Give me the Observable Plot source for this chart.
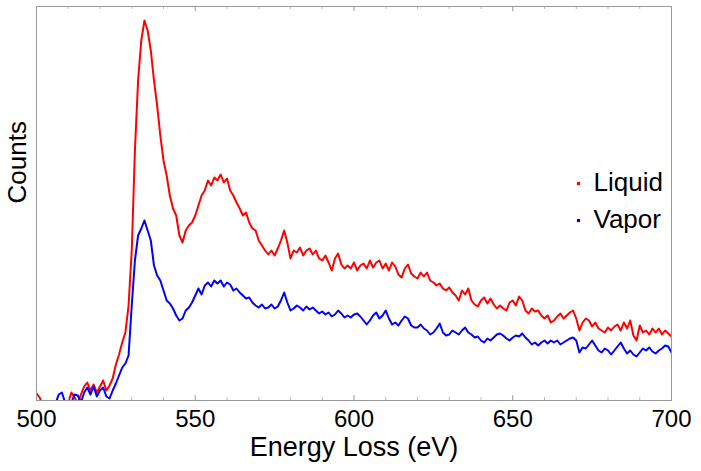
<!DOCTYPE html>
<html>
<head>
<meta charset="utf-8">
<script src="https://cdn.jsdelivr.net/npm/d3@7"></script>
<script src="https://cdn.jsdelivr.net/npm/@observablehq/plot@0.6"></script>
<style>
  html, body { margin: 0; padding: 0; background: #fff; }
  #chart { width: 701px; height: 471px; }
</style>
</head>
<body>
<div id="chart"></div>
<script>
// Energy loss grid (eV)
const energy = [
500,501,502,503,504,505,506,507,508,509,510,511,512,513,514,515,516,517,518,519,
520,521,522,523,524,525,526,527,528,529,530,531,532,533,534,535,536,537,538,539,
540,541,542,543,544,545,546,547,548,549,550,551,552,553,554,555,556,557,558,559,
560,561,562,563,564,565,566,567,568,569,570,571,572,573,574,575,576,577,578,579,
580,581,582,583,584,585,586,587,588,589,590,591,592,593,594,595,596,597,598,599,
600,601,602,603,604,605,606,607,608,609,610,611,612,613,614,615,616,617,618,619,
620,621,622,623,624,625,626,627,628,629,630,631,632,633,634,635,636,637,638,639,
640,641,642,643,644,645,646,647,648,649,650,651,652,653,654,655,656,657,658,659,
660,661,662,663,664,665,666,667,668,669,670,671,672,673,674,675,676,677,678,679,
680,681,682,683,684,685,686,687,688,689,690,691,692,693,694,695,696,697,698,699,
700];

// Counts (arbitrary units), Liquid
const liquid = [
7,3,-5,-8,-6,-10,-5,-8,-4,-6,-2,8,3,-3,6,14,18,10,16,8,
14,20,10,15,22,36,46,58,68,95,150,250,320,360,380,370,350,320,295,265,
240,225,205,192,185,165,158,170,175,178,185,195,205,210,220,215,223,220,226,218,
222,210,205,198,192,185,188,178,172,170,160,155,150,146,150,145,152,160,170,158,
142,150,148,153,145,150,152,146,150,142,140,145,138,130,142,147,136,132,135,132,
138,130,135,137,132,140,133,138,140,132,137,130,138,134,126,123,132,136,127,124,
122,128,124,128,120,118,115,117,112,110,113,108,105,100,110,106,112,100,96,94,
100,103,97,102,96,92,95,92,90,98,100,95,104,100,90,87,92,89,90,85,
82,85,78,80,84,87,82,85,88,90,82,70,78,82,80,74,78,72,70,68,
73,70,74,76,70,78,72,80,65,60,75,68,70,66,72,68,72,66,70,67,
64];

// Counts (arbitrary units), Vapor
const vapor = [
-5,-8,-6,-7,-4,-8,-3,6,8,-2,-6,-2,6,5,-2,8,13,6,14,4,
10,13,4,2,10,17,25,33,37,45,95,140,165,172,180,170,160,135,125,120,
110,100,97,92,85,80,82,90,93,98,105,112,106,115,118,114,120,117,120,114,
118,116,110,112,108,105,102,103,98,95,93,96,92,93,96,92,94,100,108,98,
90,92,95,93,90,94,91,93,90,87,89,86,88,84,86,90,87,83,85,83,
86,87,84,80,76,80,85,88,82,85,90,82,76,78,75,80,84,82,75,73,
73,76,72,70,66,68,72,77,68,65,66,70,68,66,70,73,68,66,63,64,
60,58,62,60,63,66,67,65,62,60,63,65,64,67,63,60,56,58,55,58,
60,57,60,58,60,56,58,60,62,63,60,48,53,52,56,60,55,50,48,52,
50,46,50,54,58,52,47,50,46,44,48,52,50,53,49,47,50,52,55,54,
48];

const seriesNames = ["Liquid", "Vapor"];
const seriesColors = ["#ff0000", "#0000ff"];
const majorTicks = [500, 550, 600, 650, 700];
const minorTicks = [510,520,530,540,560,570,580,590,610,620,630,640,660,670,680,690];

const liquidRows = energy.map((e, i) => ({e, v: liquid[i]}));
const vaporRows = energy.map((e, i) => ({e, v: vapor[i]}));

const font = "'Liberation Sans', Arial, Helvetica, sans-serif";
const yTop = 394;

const chart = Plot.plot({
  width: 701,
  height: 471,
  marginLeft: 36,
  marginRight: 30,
  marginTop: 6,
  marginBottom: 71,
  style: {fontFamily: font, background: "#fff", color: "#000"},
  x: {domain: [500, 700]},
  y: {domain: [0, yTop], axis: null},
  marks: [
    Plot.line(liquidRows, {x: "e", y: "v", stroke: seriesColors[0], strokeWidth: 2, clip: true}),
    Plot.line(vaporRows, {x: "e", y: "v", stroke: seriesColors[1], strokeWidth: 2, clip: true}),
    // inward ticks bottom and top
    Plot.ruleX(majorTicks, {x: d => d, y1: 0, y2: 5, stroke: "#999", strokeWidth: 1}),
    Plot.ruleX(minorTicks, {x: d => d, y1: 0, y2: 3, stroke: "#bbb", strokeWidth: 1}),
    Plot.ruleX(majorTicks, {x: d => d, y1: yTop, y2: yTop - 5, stroke: "#999", strokeWidth: 1}),
    Plot.ruleX(minorTicks, {x: d => d, y1: yTop, y2: yTop - 3, stroke: "#bbb", strokeWidth: 1}),
    Plot.frame({stroke: "#999", strokeWidth: 1}),
    Plot.axisX({ticks: majorTicks, tickSize: 0, tickPadding: 9, fontSize: 24, label: null, tickFormat: d => String(d)}),
    Plot.text(["Energy Loss (eV)"], {frameAnchor: "bottom", lineAnchor: "middle", dy: 47, fontSize: 27, fill: "#000"}),
    Plot.text(["Counts"], {frameAnchor: "left", lineAnchor: "middle", dx: -19, rotate: -90, fontSize: 26, fill: "#000"}),
    // legend
    Plot.dot([seriesNames[0]], {frameAnchor: "top-left", dx: 542, dy: 177, symbol: "square", r: 1.8, fill: seriesColors[0], stroke: "none"}),
    Plot.dot([seriesNames[1]], {frameAnchor: "top-left", dx: 542, dy: 214, symbol: "square", r: 1.8, fill: seriesColors[1], stroke: "none"}),
    Plot.text([seriesNames[0]], {frameAnchor: "top-left", lineAnchor: "middle", dx: 557, dy: 176, textAnchor: "start", fontSize: 26, fill: "#000"}),
    Plot.text([seriesNames[1]], {frameAnchor: "top-left", lineAnchor: "middle", dx: 557, dy: 213, textAnchor: "start", fontSize: 26, fill: "#000"})
  ]
});
document.getElementById("chart").appendChild(chart);
</script>
</body>
</html>
